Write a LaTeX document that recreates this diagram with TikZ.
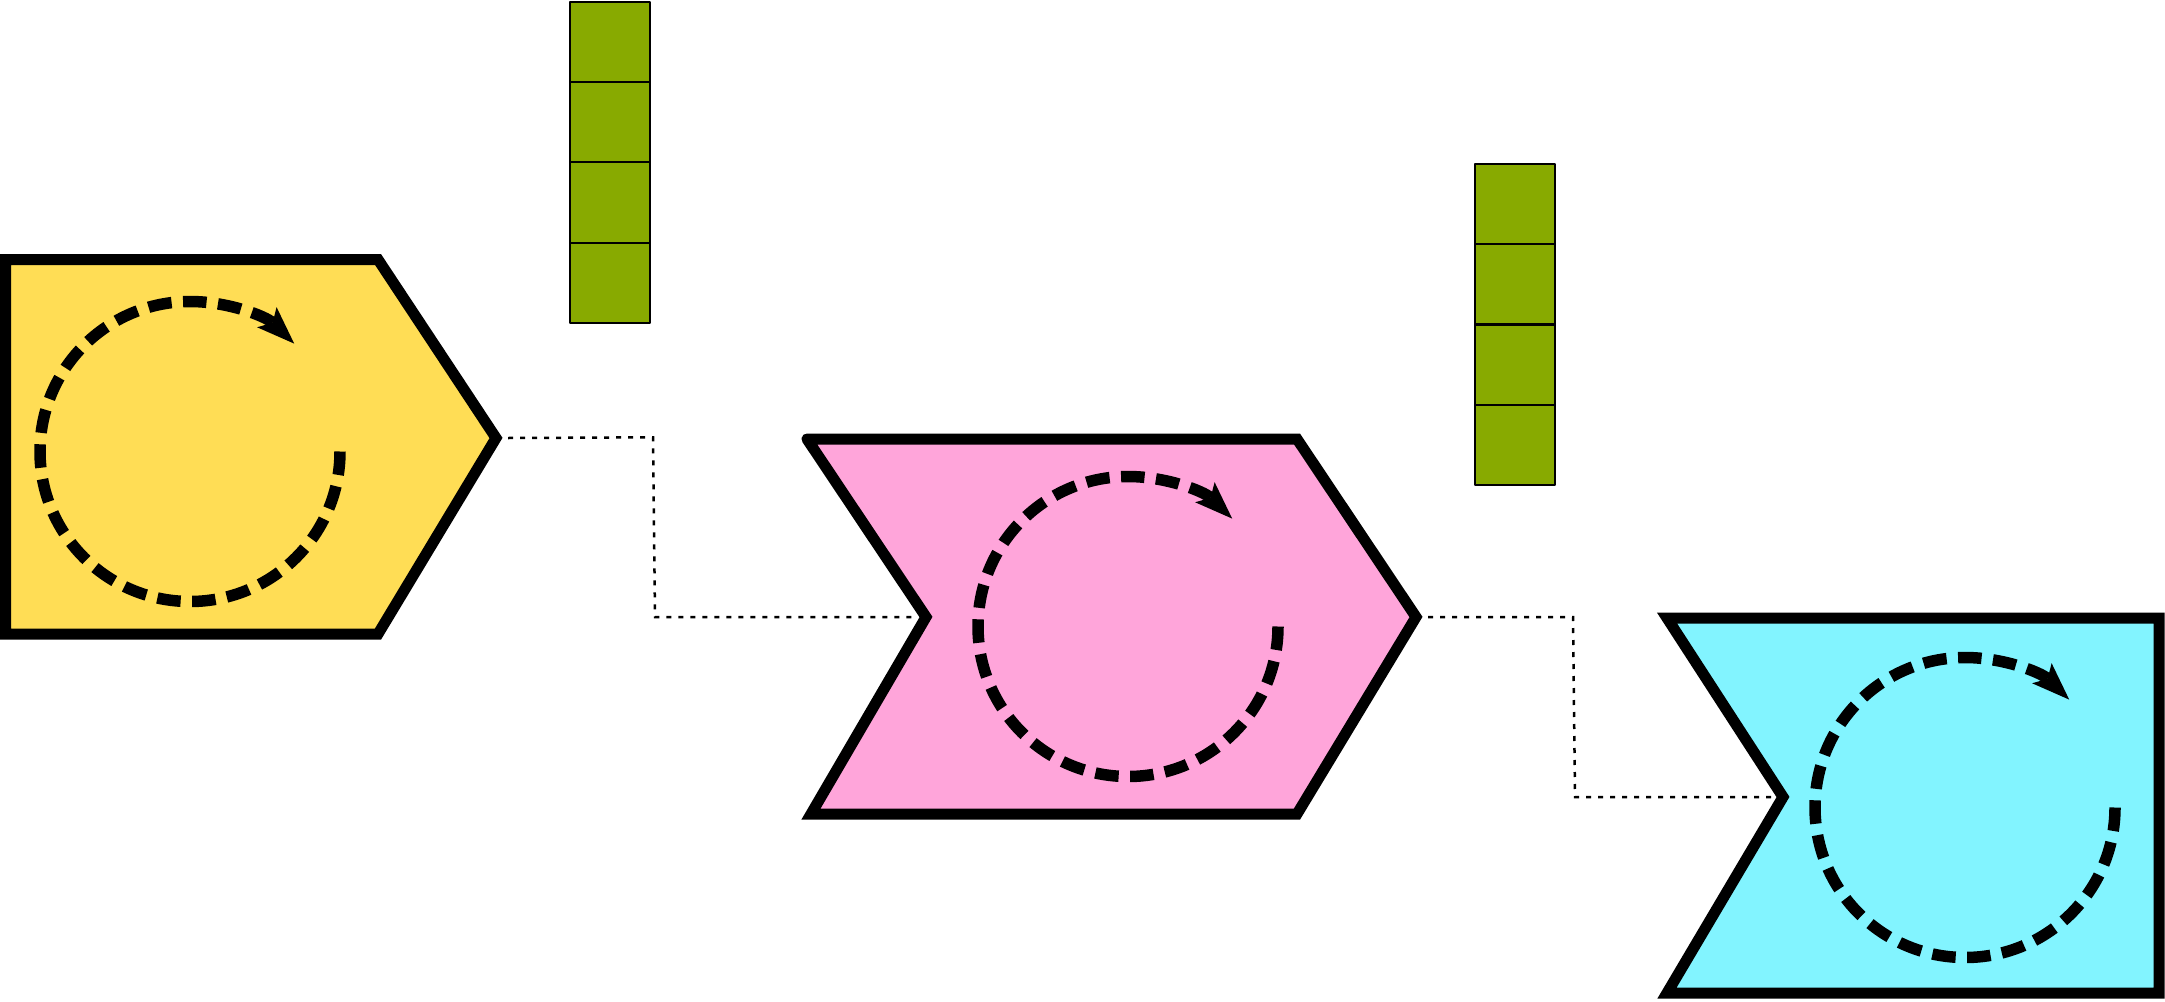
\documentclass[tikz,border=0pt]{standalone}
\usetikzlibrary{arrows.meta}
\definecolor{cyel}{HTML}{FFDD55}
\definecolor{cpink}{HTML}{FFA5DA}
\definecolor{ccyan}{HTML}{82F4FF}
\definecolor{cgreen}{HTML}{88AA00}
\begin{document}
\begin{tikzpicture}[x=1pt,y=-1pt,
  chevron/.style={line width=11pt, draw=black, line join=miter},
  cyclearrow/.style={line width=11.5pt, dash pattern=on 23.5pt off 11.5pt,
    -{Stealth[length=38pt,width=28pt,inset=8pt,line width=0pt]}},
  cell/.style={draw=black, fill=cgreen, line width=2.2pt, line join=round,
    minimum width=80pt, minimum height=80.3pt, inner sep=0pt, outer sep=0pt},
  link/.style={line width=2.5pt, dash pattern=on 5pt off 7pt}]
\useasboundingbox (0,0) rectangle (2165,1001);

% yellow chevron
\coordinate (Y1) at (5.5,259.5);
\coordinate (Y2) at (378,259.5);
\coordinate (Ytip) at (496,438);
\coordinate (Y3) at (378,634);
\coordinate (Y4) at (5.5,634);
\draw[chevron, fill=cyel] (Y1) -- (Y2) -- (Ytip) -- (Y3) -- (Y4) -- cycle;

% pink chevron
\coordinate (P1) at (807,439);
\coordinate (P2) at (1297,439);
\coordinate (Ptip) at (1416,617);
\coordinate (P3) at (1297,814);
\coordinate (P4) at (811,814);
\coordinate (Pnotch) at (926,617);
\draw[chevron, fill=cpink, line cap=round] (P1) -- (P2) -- (Ptip) -- (P3) -- (P4) -- (Pnotch) -- (P1);

% cyan flag
\coordinate (C1) at (1667,618);
\coordinate (C2) at (2159,618);
\coordinate (C3) at (2159,993);
\coordinate (C4) at (1667,993);
\coordinate (Cnotch) at (1783,797);
\draw[chevron, fill=ccyan] (C1) -- (C2) -- (C3) -- (C4) -- (Cnotch) -- cycle;

% cycle arrows
\coordinate (Yc) at (190,451.5);
\coordinate (Pc) at (1128,626.5);
\coordinate (Cc) at (1965,807.5);
\draw[cyclearrow] ([xshift=150pt]Yc) arc[start angle=0, end angle=314, radius=150];
\draw[cyclearrow] ([xshift=150pt]Pc) arc[start angle=0, end angle=314, radius=150];
\draw[cyclearrow] ([xshift=150pt]Cc) arc[start angle=0, end angle=314, radius=150];

% green stacks
\node[cell] (a1) at (610,41.85) {};
\node[cell] (a2) at (610,122.15) {};
\node[cell] (a3) at (610,202.45) {};
\node[cell] (a4) at (610,282.75) {};
\node[cell] (b1) at (1514.6,204.1) {};
\node[cell] (b2) at (1514.6,284.4) {};
\node[cell] (b3) at (1514.6,364.6) {};
\node[cell] (b4) at (1514.6,444.9) {};

% dotted connectors
\coordinate (L1a) at (653,437.3);
\coordinate (L1b) at (655,617);
\coordinate (L2a) at (1573,617);
\coordinate (L2b) at (1575,797);
\draw[link] ([xshift=12pt]Ytip) -- (L1a) -- (L1b) -- ([xshift=-9pt]Pnotch);
\draw[link] ([xshift=12pt]Ptip) -- (L2a) -- (L2b) -- ([xshift=-9pt]Cnotch);
\end{tikzpicture}
\end{document}
